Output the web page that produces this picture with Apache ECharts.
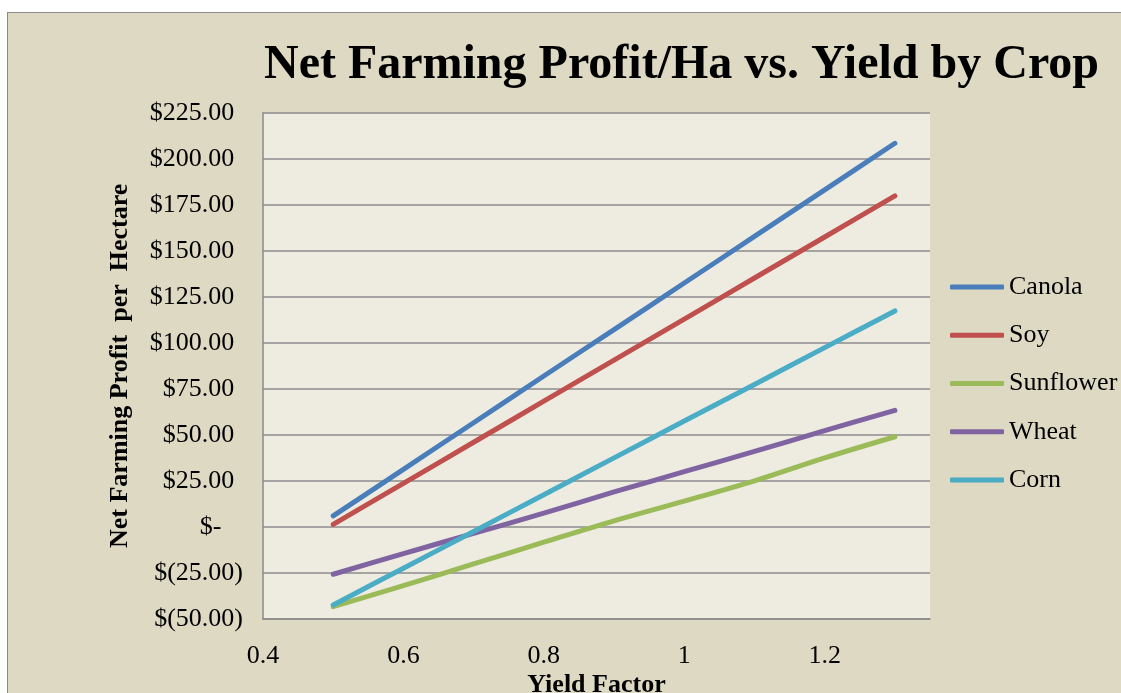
<!DOCTYPE html>
<html>
<head>
<meta charset="utf-8">
<script src="https://cdn.jsdelivr.net/npm/echarts@6/dist/echarts.min.js"></script>
<style>
  html, body { margin:0; padding:0; background:#ffffff; width:1121px; height:693px; overflow:hidden; }
  #frame { position:absolute; left:7px; top:12px; width:1200px; height:800px; background:#DDD9C3; border:1.5px solid #8a8a8a; box-sizing:border-box; }
  #chart { position:absolute; left:0; top:0; width:1121px; height:693px; }
</style>
</head>
<body>
<div id="frame"></div>
<div id="chart"></div>
<script>
// ---- data ----
const titleText = 'Net Farming Profit/Ha vs. Yield by Crop';
const xAxisName = 'Yield Factor';
const yAxisName = 'Net Farming Profit  per  Hectare';
const seriesNames = ['Canola', 'Soy', 'Sunflower', 'Wheat', 'Corn'];
const seriesColors = ['#4A7EBB', '#C0504D', '#9BBB59', '#8064A2', '#4BACC6'];
const yieldFactor = [0.5, 0.6, 0.7, 0.8, 0.9, 1.0, 1.1, 1.2, 1.3];
const canola    = [6.0, 31.3, 56.6, 82.0, 107.2, 132.5, 157.8, 183.1, 208.4];
const soy       = [1.4, 23.7, 46.0, 68.3, 90.6, 112.9, 135.2, 157.5, 179.8];
const sunflower = [-43.3, -31.9, -20.1, -8.3, 3.3, 14.0, 25.0, 37.5, 49.0];
const wheat     = [-25.7, -14.5, -3.5, 7.5, 19.0, 30.0, 41.0, 52.3, 63.3];
const corn      = [-42.4, -22.4, -2.5, 17.5, 37.5, 57.5, 77.4, 97.4, 117.3];
const xMin = 0.4, xMax = 1.35, xStep = 0.2;
const yMin = -50, yMax = 225, yStep = 25;

const allValues = [canola, soy, sunflower, wheat, corn];
const FONT = '"Liberation Serif", "Times New Roman", serif';

const chart = echarts.init(document.getElementById('chart'), null, { renderer: 'canvas' });

function yLabel(v) {
  if (Math.abs(v) < 1e-9) return '{t|$-}{h|0)}';
  if (v < 0) return '{t|$(' + Math.abs(v).toFixed(2) + ')}';
  return '{t|$' + v.toFixed(2) + '}{h|)}';
}

const option = {
  backgroundColor: 'transparent',
  animation: false,
  graphic: [{
    type: 'text',
    x: 681.5, y: 65.5,
    style: {
      text: titleText,
      font: 'bold 48px ' + FONT,
      fill: '#000',
      align: 'center',
      verticalAlign: 'middle'
    }
  }],
  grid: {
    left: 263, top: 112.7, right: 191, bottom: 74,
    outerBoundsMode: 'none',
    containLabel: false,
    show: true, backgroundColor: '#EEECE1', borderWidth: 0
  },
  legend: {
    orient: 'vertical',
    left: 950, top: 274,
    padding: 0,
    itemWidth: 54, itemHeight: 5,
    itemGap: 22.25,
    icon: 'roundRect',
    textStyle: { fontFamily: FONT, fontSize: 26, color: '#000', lineHeight: 26 },
    data: seriesNames
  },
  xAxis: {
    type: 'value',
    min: xMin, max: xMax, interval: xStep,
    name: xAxisName,
    nameLocation: 'middle',
    nameGap: 53,
    nameMoveOverlap: false,
    nameTextStyle: { fontFamily: FONT, fontSize: 26, fontWeight: 'bold', color: '#000' },
    axisLine: { show: true, onZero: false, lineStyle: { color: '#8a8a8a', width: 1.5 } },
    axisTick: { show: false },
    splitLine: { show: false },
    axisLabel: {
      margin: 24,
      showMaxLabel: false,
      fontFamily: FONT, fontSize: 26, color: '#000',
      formatter: v => String(Number(v.toFixed(1)))
    }
  },
  yAxis: {
    type: 'value',
    min: yMin, max: yMax, interval: yStep,
    name: yAxisName,
    nameLocation: 'middle',
    nameGap: 130,
    nameMoveOverlap: false,
    nameRotate: 90,
    nameTextStyle: { fontFamily: FONT, fontSize: 26, fontWeight: 'bold', color: '#000' },
    axisLine: { show: true, lineStyle: { color: '#8a8a8a', width: 1.5 } },
    axisTick: { show: false },
    splitLine: { show: true, lineStyle: { color: '#8c8c8c', width: 1.6 } },
    axisLabel: {
      margin: 20,
      formatter: yLabel,
      rich: {
        t: { fontFamily: FONT, fontSize: 26, color: '#000' },
        h: { fontFamily: FONT, fontSize: 26, color: 'rgba(0,0,0,0)' }
      }
    }
  },
  series: seriesNames.map((name, i) => ({
    name: name,
    type: 'line',
    smooth: 0.35,
    showSymbol: false,
    symbol: 'none',
    color: seriesColors[i],
    lineStyle: { width: 5, color: seriesColors[i], cap: 'round', join: 'round' },
    itemStyle: { color: seriesColors[i] },
    data: yieldFactor.map((x, j) => [x, allValues[i][j]])
  }))
};
chart.setOption(option);
</script>
</body>
</html>
